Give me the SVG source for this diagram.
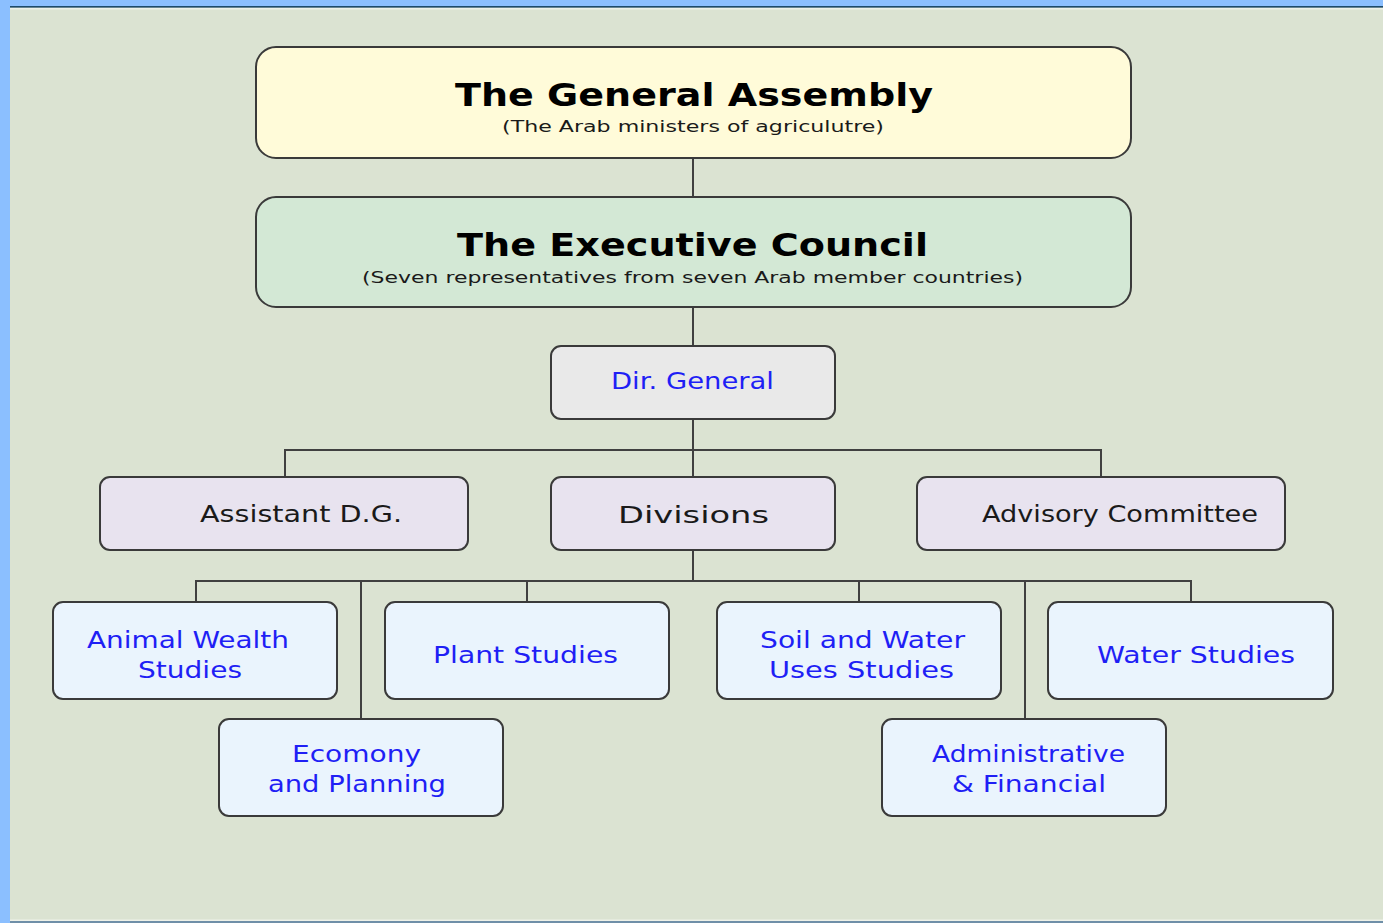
<svg xmlns="http://www.w3.org/2000/svg" width="1383" height="923" viewBox="0 0 1383 923">
  <style>
    .box { stroke: #3a3a3a; stroke-width: 2; }
    .big { fill: #fffbd9; }
    .exec { fill: #d3e8d5; }
    .dg { fill: #e9e9e9; }
    .mid { fill: #e8e3ef; }
    .unit { fill: #eaf4fd; }
    .title { font-family: "DejaVu Sans", "Liberation Sans", sans-serif; font-weight: bold; font-size: 32px; fill: #000; text-anchor: middle; }
    .sub { font-family: "DejaVu Sans", "Liberation Sans", sans-serif; font-size: 15px; fill: #1a1a1a; text-anchor: middle; }
    .dark { font-family: "DejaVu Sans", "Liberation Sans", sans-serif; font-size: 23px; fill: #1a1a1a; text-anchor: middle; }
    .blue { font-family: "DejaVu Sans", "Liberation Sans", sans-serif; font-size: 23px; fill: #1f1ff5; text-anchor: middle; }
    .links { stroke: #404040; stroke-width: 2; fill: none; }
  </style>

  <!-- page background and frame -->
  <rect x="0" y="0" width="1383" height="923" fill="#dbe3d2"/>
  <rect x="0" y="0" width="1383" height="6" fill="#8bbfff"/>
  <rect x="0" y="6" width="1383" height="1.6" fill="#1d4a6b"/>
  <rect x="10" y="8" width="1373" height="1.5" fill="#eef1e8"/>
  <rect x="10" y="919.5" width="1373" height="1.5" fill="#eef1e8"/>
  <rect x="10" y="921" width="1373" height="2" fill="#6f8fa8"/>
  <rect x="0" y="0" width="10" height="923" fill="#8bbfff"/>

  <!-- connectors -->
  <g id="connectors" class="links">
    <path d="M693 158 V197"/>
    <path d="M693 307 V346"/>
    <path d="M693 419 V477"/>
    <path d="M285 477 V450 H1101 V477"/>
    <path d="M693 550 V581"/>
    <path d="M196 602 V581 H1191 V602"/>
    <path d="M361 581 V719"/>
    <path d="M527 581 V602"/>
    <path d="M859 581 V602"/>
    <path d="M1025 581 V719"/>
  </g>

  <g id="general-assembly">
    <rect class="box big" x="256" y="47" width="875" height="111" rx="20"/>
    <text class="title" x="694" y="106" textLength="478" lengthAdjust="spacingAndGlyphs">The General Assembly</text>
    <text class="sub" x="693" y="132" textLength="382" lengthAdjust="spacingAndGlyphs">(The Arab ministers of agriculutre)</text>
  </g>

  <g id="executive-council">
    <rect class="box exec" x="256" y="197" width="875" height="110" rx="20"/>
    <text class="title" x="692.5" y="256" textLength="471" lengthAdjust="spacingAndGlyphs">The Executive Council</text>
    <text class="sub" x="692.5" y="283" textLength="661" lengthAdjust="spacingAndGlyphs">(Seven representatives from seven Arab member countries)</text>
  </g>

  <g id="dir-general">
    <rect class="box dg" x="551" y="346" width="284" height="73" rx="10"/>
    <text class="blue" x="692.5" y="389" textLength="163" lengthAdjust="spacingAndGlyphs">Dir. General</text>
  </g>

  <g id="assistant-dg">
    <rect class="box mid" x="100" y="477" width="368" height="73" rx="10"/>
    <text class="dark" x="301" y="522" textLength="202" lengthAdjust="spacingAndGlyphs">Assistant D.G.</text>
  </g>

  <g id="divisions">
    <rect class="box mid" x="551" y="477" width="284" height="73" rx="10"/>
    <text class="dark" x="693.5" y="523" font-size="30" textLength="151" lengthAdjust="spacingAndGlyphs">Divisions</text>
  </g>

  <g id="advisory-committee">
    <rect class="box mid" x="917" y="477" width="368" height="73" rx="10"/>
    <text class="dark" x="1120" y="522" textLength="276" lengthAdjust="spacingAndGlyphs">Advisory Committee</text>
  </g>

  <g id="animal-wealth">
    <rect class="box unit" x="53" y="602" width="284" height="97" rx="10"/>
    <text class="blue" x="188" y="648" textLength="202" lengthAdjust="spacingAndGlyphs">Animal Wealth</text>
    <text class="blue" x="190" y="678" textLength="104" lengthAdjust="spacingAndGlyphs">Studies</text>
  </g>

  <g id="plant-studies">
    <rect class="box unit" x="385" y="602" width="284" height="97" rx="10"/>
    <text class="blue" x="525.5" y="663" textLength="185" lengthAdjust="spacingAndGlyphs">Plant Studies</text>
  </g>

  <g id="soil-water">
    <rect class="box unit" x="717" y="602" width="284" height="97" rx="10"/>
    <text class="blue" x="862.5" y="648" textLength="205" lengthAdjust="spacingAndGlyphs">Soil and Water</text>
    <text class="blue" x="861.5" y="678" textLength="185" lengthAdjust="spacingAndGlyphs">Uses Studies</text>
  </g>

  <g id="water-studies">
    <rect class="box unit" x="1048" y="602" width="285" height="97" rx="10"/>
    <text class="blue" x="1196" y="663" textLength="198" lengthAdjust="spacingAndGlyphs">Water Studies</text>
  </g>

  <g id="economy-planning">
    <rect class="box unit" x="219" y="719" width="284" height="97" rx="10"/>
    <text class="blue" x="356.5" y="762" textLength="129" lengthAdjust="spacingAndGlyphs">Ecomony</text>
    <text class="blue" x="357" y="792" textLength="178" lengthAdjust="spacingAndGlyphs">and Planning</text>
  </g>

  <g id="admin-financial">
    <rect class="box unit" x="882" y="719" width="284" height="97" rx="10"/>
    <text class="blue" x="1028.5" y="762" textLength="193" lengthAdjust="spacingAndGlyphs">Administrative</text>
    <text class="blue" x="1029" y="792" textLength="154" lengthAdjust="spacingAndGlyphs">&amp; Financial</text>
  </g>
</svg>
